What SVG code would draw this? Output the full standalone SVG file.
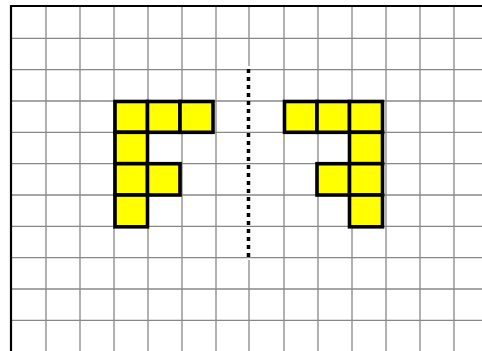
<svg xmlns="http://www.w3.org/2000/svg" width="482" height="351" viewBox="0 0 482 351">
  <style>
    .grid line { stroke: #888; stroke-width: 1.3; }
    .cell { fill: #ffff00; stroke: #000; stroke-width: 3.6; }
    .border { stroke: #000; stroke-width: 2.2; }
    .mirror { stroke: #000; stroke-width: 3.5; stroke-dasharray: 4 4; }
  </style>
  <rect x="0" y="0" width="482" height="351" fill="#fff"/>
  <g id="grid" class="grid">
    <line x1="46" y1="7" x2="46" y2="351"/>
    <line x1="80" y1="7" x2="80" y2="351"/>
    <line x1="114" y1="7" x2="114" y2="351"/>
    <line x1="148" y1="7" x2="148" y2="351"/>
    <line x1="182" y1="7" x2="182" y2="351"/>
    <line x1="216" y1="7" x2="216" y2="351"/>
    <line x1="249" y1="7" x2="249" y2="66"/>
    <line x1="249" y1="260" x2="249" y2="351"/>
    <line x1="284" y1="7" x2="284" y2="351"/>
    <line x1="318" y1="7" x2="318" y2="351"/>
    <line x1="352" y1="7" x2="352" y2="351"/>
    <line x1="386" y1="7" x2="386" y2="351"/>
    <line x1="420" y1="7" x2="420" y2="351"/>
    <line x1="454" y1="7" x2="454" y2="351"/>
    <line x1="12" y1="38.3" x2="482" y2="38.3"/>
    <line x1="12" y1="69.7" x2="482" y2="69.7"/>
    <line x1="12" y1="101" x2="482" y2="101"/>
    <line x1="12" y1="132.3" x2="482" y2="132.3"/>
    <line x1="12" y1="163.7" x2="482" y2="163.7"/>
    <line x1="12" y1="195" x2="482" y2="195"/>
    <line x1="12" y1="226.3" x2="482" y2="226.3"/>
    <line x1="12" y1="257.7" x2="482" y2="257.7"/>
    <line x1="12" y1="289" x2="482" y2="289"/>
    <line x1="12" y1="320.3" x2="482" y2="320.3"/>
  </g>
  <g id="frame">
    <line class="border" x1="10" y1="6" x2="482" y2="6"/>
    <line class="border" x1="11" y1="5" x2="11" y2="351"/>
  </g>
  <g id="mirror-line">
    <line class="mirror" x1="248.5" y1="69" x2="248.5" y2="258"/>
  </g>
  <g id="shape-left">
    <rect class="cell" x="115" y="101.5" width="32.5" height="30.8"/>
    <rect class="cell" x="147.5" y="101.5" width="32.5" height="30.8"/>
    <rect class="cell" x="180" y="101.5" width="33" height="30.8"/>
    <rect class="cell" x="115" y="132.3" width="32.5" height="31.4"/>
    <rect class="cell" x="115" y="163.7" width="32.5" height="31.3"/>
    <rect class="cell" x="147.5" y="163.7" width="32.5" height="31.3"/>
    <rect class="cell" x="115" y="195" width="32.5" height="31.8"/>
  </g>
  <g id="shape-right">
    <rect class="cell" x="284.5" y="101.5" width="32.5" height="30.8"/>
    <rect class="cell" x="317" y="101.5" width="32.5" height="30.8"/>
    <rect class="cell" x="349.5" y="101.5" width="33" height="30.8"/>
    <rect class="cell" x="349.5" y="132.3" width="33" height="31.4"/>
    <rect class="cell" x="317" y="163.7" width="32.5" height="31.3"/>
    <rect class="cell" x="349.5" y="163.7" width="33" height="31.3"/>
    <rect class="cell" x="349.5" y="195" width="33" height="31.8"/>
  </g>
</svg>
